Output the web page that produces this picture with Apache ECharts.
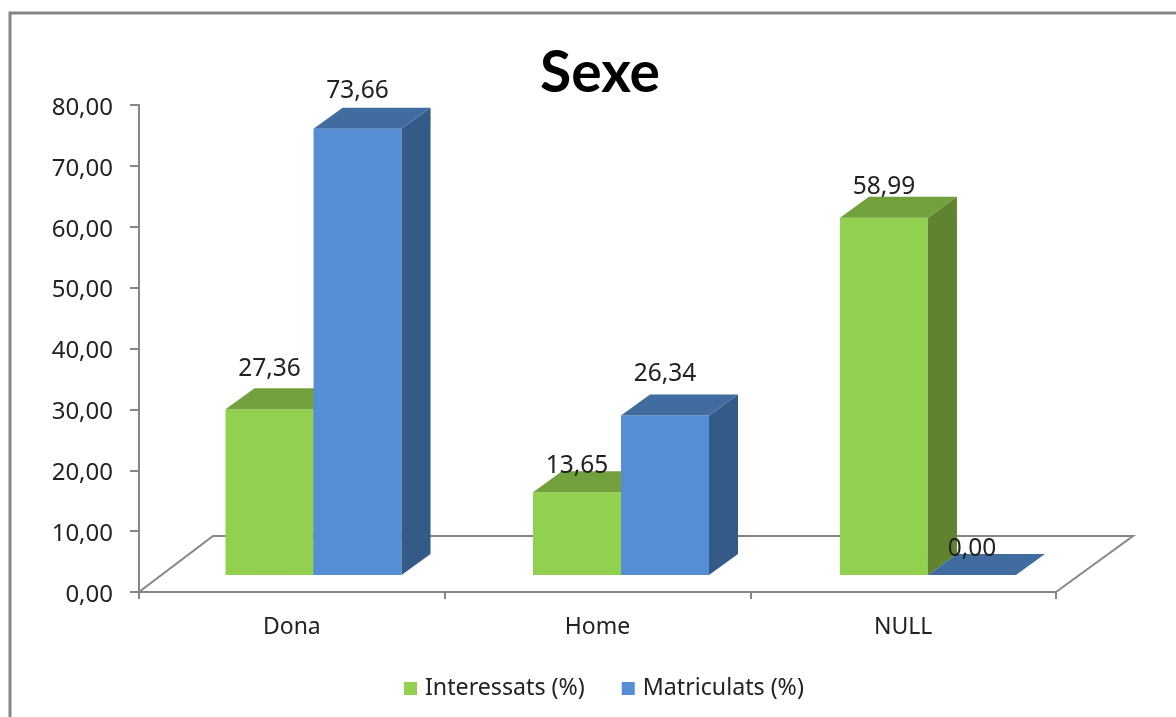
<!DOCTYPE html>
<html>
<head>
<meta charset="utf-8">
<title>Sexe</title>
<script src="https://cdn.jsdelivr.net/npm/echarts@6/dist/echarts.min.js"></script>
<style>
  html, body { margin: 0; padding: 0; background: #fff; }
  #container { width: 1176px; height: 717px; }
</style>
</head>
<body>
<div id="container"></div>
<script>
  var categories = ['Dona', 'Home', 'NULL'];
  var interessats = [27.36, 13.65, 58.99];
  var matriculats = [73.66, 26.34, 0.00];
  var yTicks = [0, 10, 20, 30, 40, 50, 60, 70, 80];

  var FONT = '"Noto Sans", sans-serif';
  var GREY = '#868686';
  var TEXT = '#222222';

  var green = {front: '#92D050', top: '#72A03C', side: '#618231'};
  var blue = {front: '#558ED5', top: '#416CA0', side: '#345A88'};

  // the fake 3d box, all in px around the axis coordinates
  var barW = 88, depthX = 29, depthY = 21, lift = 17, squash = 0.995;
  var pairShift = [21.7, 23.5, 24.8];
  var greenLabelUp = [40, 26, 31];
  var blueLabelUp = [38, 41, 26];

  function fmt(v) {
    return v.toFixed(2).replace('.', ',');
  }

  function boxRenderer(colors, side, labelUp) {
    return function (params, api) {
      var i = api.value(0);
      var v = api.value(1);
      var base = api.coord([i, 0]);
      var top = api.coord([i, v]);
      var x0 = base[0] + pairShift[i] + (side < 0 ? -barW : 0);
      var x1 = x0 + barW;
      var y0 = base[1] - lift;
      var y1 = y0 - (base[1] - top[1]) * squash;
      var children = [];
      if (v > 0) {
        children.push({
          type: 'polygon',
          shape: {points: [[x0, y0], [x1, y0], [x1, y1], [x0, y1]]},
          style: {fill: colors.front}
        });
        children.push({
          type: 'polygon',
          shape: {points: [[x1, y0], [x1 + depthX, y0 - depthY], [x1 + depthX, y1 - depthY], [x1, y1]]},
          style: {fill: colors.side}
        });
      }
      children.push({
        type: 'polygon',
        shape: {points: [[x0, y1], [x1, y1], [x1 + depthX, y1 - depthY], [x0 + depthX, y1 - depthY]]},
        style: {fill: colors.top}
      });
      children.push({
        type: 'text',
        z2: 10,
        style: {
          x: (x0 + x1) / 2,
          y: y1 - labelUp[i],
          text: fmt(v),
          align: 'center',
          verticalAlign: 'middle',
          fill: TEXT,
          font: '24.5px ' + FONT
        }
      });
      return {type: 'group', children: children};
    };
  }

  function floorRenderer(params, api) {
    var band = api.size([1, 0])[0];
    var left = api.coord([0, 0]);
    var right = api.coord([categories.length - 1, 0]);
    var xl = left[0] - band / 2;
    var xr = right[0] + band / 2;
    var y = left[1];
    return {
      type: 'polyline',
      shape: {points: [[xl, y], [xl + 74, y - 56], [xr + 77, y - 56], [xr, y]]},
      style: {fill: 'none', stroke: GREY, lineWidth: 2}
    };
  }

  var myChart = echarts.init(document.getElementById('container'));

  var option = {
    animation: false,
    backgroundColor: '#fff',
    title: {
      text: 'Sexe',
      left: 595,
      top: 40,
      textAlign: 'center',
      textStyle: {fontFamily: 'Lato, sans-serif', fontSize: 57, fontWeight: 'bold', color: '#000'}
    },
    graphic: [{
      type: 'polyline',
      silent: true,
      shape: {points: [[10, 717], [10, 13], [1176, 13]]},
      style: {fill: 'none', stroke: GREY, lineWidth: 3}
    }],
    legend: {
      data: ['Interessats (%)', 'Matriculats (%)'],
      left: 399,
      top: 672,
      itemWidth: 13,
      itemHeight: 13,
      itemGap: 37,
      icon: 'rect',
      textStyle: {fontFamily: FONT, fontSize: 23.2, color: TEXT, padding: [0, 0, 0, 3]}
    },
    grid: {left: 139, right: 120, top: 105, bottom: 125},
    xAxis: {
      type: 'category',
      data: categories,
      axisLine: {lineStyle: {color: GREY, width: 2}},
      axisTick: {show: true, length: 7, alignWithLabel: false, lineStyle: {color: GREY, width: 2}},
      axisLabel: {margin: 24, fontFamily: FONT, fontSize: 23, color: TEXT},
      splitLine: {show: false}
    },
    yAxis: {
      type: 'value',
      min: yTicks[0],
      max: yTicks[yTicks.length - 1],
      interval: yTicks[1] - yTicks[0],
      axisLine: {show: true, lineStyle: {color: GREY, width: 2}},
      axisTick: {show: true, length: 9, lineStyle: {color: GREY, width: 2}},
      axisLabel: {margin: 26, fontFamily: FONT, fontSize: 24, color: TEXT, formatter: fmt, verticalAlign: 'top', lineHeight: 6},
      splitLine: {show: false}
    },
    series: [
      {
        type: 'custom',
        name: 'floor',
        z: 1,
        silent: true,
        clip: false,
        renderItem: floorRenderer,
        data: [[0, 0]]
      },
      {
        type: 'custom',
        name: 'Interessats (%)',
        z: 2,
        clip: false,
        itemStyle: {color: green.front},
        renderItem: boxRenderer(green, -1, greenLabelUp),
        encode: {x: 0, y: 1},
        data: interessats.map(function (v, i) { return [i, v]; })
      },
      {
        type: 'custom',
        name: 'Matriculats (%)',
        z: 3,
        clip: false,
        itemStyle: {color: blue.front},
        renderItem: boxRenderer(blue, 1, blueLabelUp),
        encode: {x: 0, y: 1},
        data: matriculats.map(function (v, i) { return [i, v]; })
      }
    ]
  };

  myChart.setOption(option);
</script>
</body>
</html>
